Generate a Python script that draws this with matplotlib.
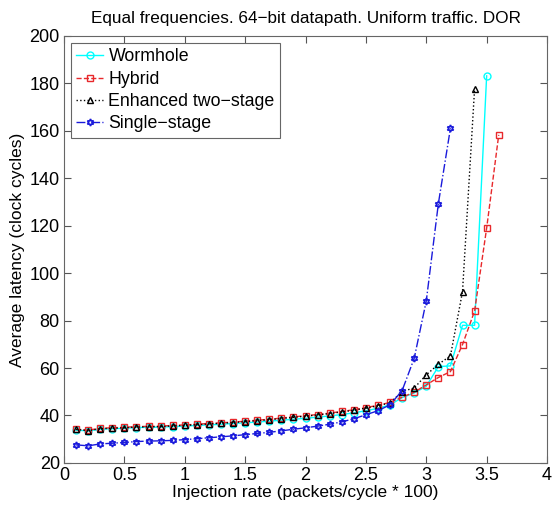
import numpy as np
import matplotlib
matplotlib.use("Agg")
import matplotlib.pyplot as plt

plt.rcParams['font.family'] = ['Liberation Sans', 'DejaVu Sans']

# injection rates (packets/cycle * 100)
rate_hybrid = [round(0.1 * i, 1) for i in range(1, 37)]
rate_worm = rate_hybrid[:35]
rate_enh = rate_hybrid[:34]
rate_single = rate_hybrid[:32]

lat_hybrid = [34.2, 33.8, 34.6, 34.8, 35.0, 35.3, 35.4, 35.5, 35.8, 36.0,
              36.3, 36.6, 36.9, 37.2, 37.6, 38.0, 38.4, 38.9, 39.4, 39.9,
              40.4, 41.0, 41.7, 42.4, 43.3, 44.3, 45.5, 47.7, 49.8, 52.9,
              56.0, 58.5, 69.9, 84.0, 119.0, 158.3]
lat_worm = [33.8, 33.5, 34.2, 34.4, 34.6, 34.9, 35.0, 35.1, 35.3, 35.5,
            35.8, 36.0, 36.3, 36.6, 36.9, 37.2, 37.6, 38.0, 38.4, 38.8,
            39.3, 39.8, 40.4, 41.1, 42.0, 43.0, 44.5, 47.5, 49.5, 52.3,
            60.6, 60.9, 78.0, 78.0, 183.2]
lat_enh = [34.1, 33.6, 34.4, 34.6, 34.8, 35.1, 35.2, 35.3, 35.6, 35.8,
           36.1, 36.4, 36.7, 37.0, 37.4, 37.8, 38.2, 38.7, 39.2, 39.7,
           40.2, 40.8, 41.5, 42.2, 43.1, 44.1, 45.3, 50.1, 51.6, 57.1,
           61.6, 65.1, 92.2, 177.7]
lat_single = [27.6, 27.2, 28.0, 28.3, 28.6, 29.0, 29.2, 29.3, 29.5, 29.8,
              30.2, 30.6, 31.0, 31.4, 31.9, 32.4, 32.9, 33.5, 34.2, 34.8,
              35.5, 36.3, 37.3, 38.6, 40.3, 42.0, 44.5, 50.5, 64.1, 88.3,
              129.3, 161.1]

fig = plt.figure(figsize=(5.52, 5.07), dpi=100)
ax = fig.add_axes([0.116, 0.087, 0.875, 0.842])

ax.plot(rate_worm, lat_worm, '-', color='cyan', marker='o', ms=5,
        mfc='none', mew=1, lw=1, label='Wormhole')
ax.plot(rate_hybrid, lat_hybrid, '--', color='#e8282b', marker='s', ms=5,
        mfc='none', mew=1, lw=1, label='Hybrid')
ax.plot(rate_enh, lat_enh, ':', color='black', marker='^', ms=5,
        mfc='none', mew=1, lw=1, label='Enhanced two-stage')
ax.plot(rate_single, lat_single, '-.', color='#1a1adb', marker=(6, 1, 0), ms=5,
        mfc='none', mew=1.2, lw=1, label='Single-stage')

ax.set_xlim(0, 4)
ax.set_ylim(20, 200)
ax.set_xticks(np.arange(0, 4.01, 0.5))
ax.set_xticklabels(['0', '0.5', '1', '1.5', '2', '2.5', '3', '3.5', '4'])
ax.set_yticks(np.arange(20, 201, 20))
ax.tick_params(direction='in', top=True, right=True, labelsize=13, length=5,
               colors='#555555', labelcolor='black', pad=3)
for s in ax.spines.values():
    s.set_color('#666666')

ax.set_xlabel('Injection rate (packets/cycle * 100)', fontsize=12.5, labelpad=1)
ax.set_ylabel('Average latency (clock cycles)', fontsize=12.5, labelpad=3)
ax.set_title('Equal frequencies. 64\u2212bit datapath. Uniform traffic. DOR',
             fontsize=12.3, pad=9)

leg = ax.legend(loc='upper left', fontsize=12.8, handlelength=1.5,
                handletextpad=0.3, borderaxespad=0.4, borderpad=0.3,
                labelspacing=0.3, fancybox=False, framealpha=1)
leg.get_frame().set_edgecolor('#666666')
leg.get_frame().set_linewidth(0.8)
for t in leg.get_texts():
    t.set_text(t.get_text().replace('-', '\u2212'))

fig.savefig('out.png', dpi=100)
